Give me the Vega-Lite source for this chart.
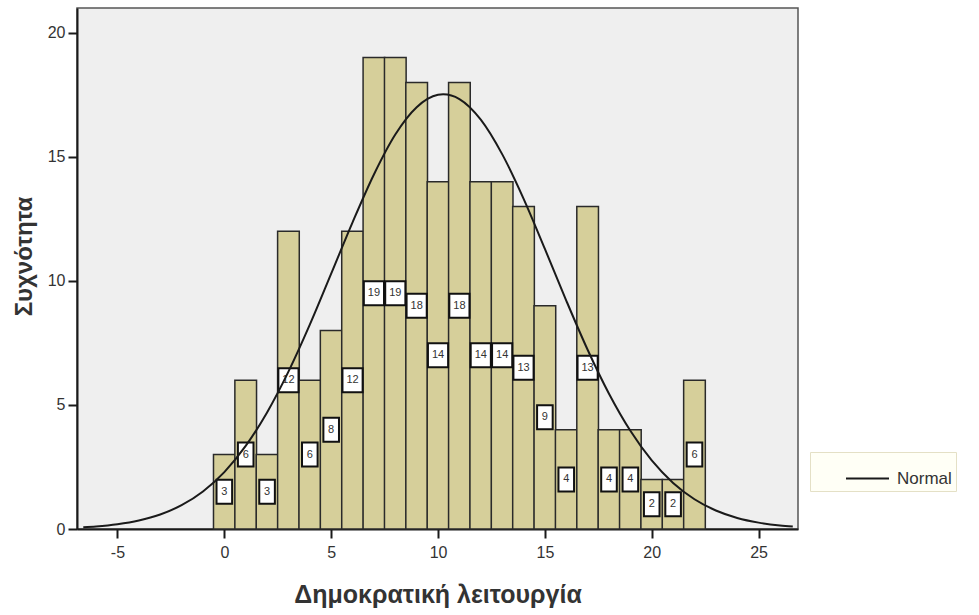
{
  "$schema": "https://vega.github.io/schema/vega-lite/v6.json",
  "autosize": {"type": "none"},
  "width": 721,
  "height": 521,
  "padding": {"left": 77, "top": 8, "right": 181, "bottom": 86},
  "background": "#ffffff",
  "config": {
    "font": "Liberation Sans",
    "view": {"fill": "#efefef", "stroke": "#555555", "strokeWidth": 1.5},
    "axis": {
      "domainColor": "#1a1a1a",
      "domainWidth": 2,
      "tickColor": "#1a1a1a",
      "tickWidth": 2,
      "tickSize": 9,
      "labelFont": "Liberation Sans",
      "labelFontSize": 16,
      "labelColor": "#333333",
      "titleFont": "Liberation Sans",
      "titleFontSize": 24,
      "titleFontWeight": "bold",
      "titleColor": "#333333",
      "grid": false
    }
  },
  "datasets": {
    "bars": [
      {"value": 0, "count": 3}, {"value": 1, "count": 6}, {"value": 2, "count": 3},
      {"value": 3, "count": 12}, {"value": 4, "count": 6}, {"value": 5, "count": 8},
      {"value": 6, "count": 12}, {"value": 7, "count": 19}, {"value": 8, "count": 19},
      {"value": 9, "count": 18}, {"value": 10, "count": 14}, {"value": 11, "count": 18},
      {"value": 12, "count": 14}, {"value": 13, "count": 14}, {"value": 14, "count": 13},
      {"value": 15, "count": 9}, {"value": 16, "count": 4}, {"value": 17, "count": 13},
      {"value": 18, "count": 4}, {"value": 19, "count": 4}, {"value": 20, "count": 2},
      {"value": 21, "count": 2}, {"value": 22, "count": 6}
    ],
    "curve": [
      {"x": -6.6, "y": 0.072}, {"x": -6, "y": 0.105}, {"x": -5, "y": 0.194},
      {"x": -4, "y": 0.344}, {"x": -3, "y": 0.586}, {"x": -2, "y": 0.959},
      {"x": -1, "y": 1.513}, {"x": 0, "y": 2.294}, {"x": 1, "y": 3.348},
      {"x": 2, "y": 4.697}, {"x": 3, "y": 6.341}, {"x": 4, "y": 8.234},
      {"x": 5, "y": 10.29}, {"x": 6, "y": 12.36}, {"x": 7, "y": 14.29},
      {"x": 8, "y": 15.9}, {"x": 9, "y": 17.0}, {"x": 10, "y": 17.5},
      {"x": 10.24, "y": 17.52}, {"x": 11, "y": 17.33}, {"x": 12, "y": 16.5},
      {"x": 13, "y": 15.11}, {"x": 14, "y": 13.32}, {"x": 15, "y": 11.29},
      {"x": 16, "y": 9.208}, {"x": 17, "y": 7.224}, {"x": 18, "y": 5.451},
      {"x": 19, "y": 3.957}, {"x": 20, "y": 2.763}, {"x": 21, "y": 1.857},
      {"x": 22, "y": 1.2}, {"x": 23, "y": 0.746}, {"x": 24, "y": 0.446},
      {"x": 25, "y": 0.257}, {"x": 26, "y": 0.142}, {"x": 26.6, "y": 0.098}
    ]
  },
  "layer": [
    {
      "data": {"name": "bars"},
      "mark": {"type": "bar", "width": 21.67, "fill": "#d6cf9a", "stroke": "#2a2a2a", "strokeWidth": 1.5},
      "encoding": {
        "x": {
          "field": "value", "type": "quantitative",
          "scale": {"domain": [-6.66, 26.61], "nice": false, "zero": false},
          "axis": {"values": [-5, 0, 5, 10, 15, 20, 25], "labelExpr": "replace(datum.label, '−', '-')", "title": "Δημοκρατική λειτουργία", "titleFontSize": 25, "titlePadding": 22, "labelPadding": 6}
        },
        "y": {
          "field": "count", "type": "quantitative",
          "scale": {"domain": [0, 21], "nice": false},
          "axis": {"values": [0, 5, 10, 15, 20], "title": "Συχνότητα", "titlePadding": 11, "titleY": 248, "labelPadding": 3}
        }
      }
    },
    {
      "data": {"name": "bars"},
      "transform": [{"filter": {"field": "count", "gte": 10}}],
      "mark": {"type": "point", "shape": "M-0.84,-1L0.84,-1L0.84,1L-0.84,1Z", "size": 576, "filled": true, "fill": "#ffffff", "stroke": "#111111", "strokeWidth": 2, "opacity": 1},
      "encoding": {
        "x": {"field": "value", "type": "quantitative"},
        "y": {"field": "count", "type": "quantitative", "scale": {"domain": [0, 42], "nice": false}, "axis": null}
      }
    },
    {
      "data": {"name": "bars"},
      "transform": [{"filter": {"field": "count", "lt": 10}}],
      "mark": {"type": "point", "shape": "M-0.65,-1L0.65,-1L0.65,1L-0.65,1Z", "size": 576, "filled": true, "fill": "#ffffff", "stroke": "#111111", "strokeWidth": 2, "opacity": 1},
      "encoding": {
        "x": {"field": "value", "type": "quantitative"},
        "y": {"field": "count", "type": "quantitative", "scale": {"domain": [0, 42], "nice": false}, "axis": null}
      }
    },
    {
      "data": {"name": "bars"},
      "mark": {"type": "text", "fontSize": 11, "color": "#333333", "baseline": "middle", "align": "center", "font": "Liberation Sans"},
      "encoding": {
        "x": {"field": "value", "type": "quantitative"},
        "y": {"field": "count", "type": "quantitative", "scale": {"domain": [0, 42], "nice": false}, "axis": null},
        "text": {"field": "count", "type": "quantitative"}
      }
    },
    {
      "data": {"name": "curve"},
      "mark": {"type": "line", "interpolate": "monotone", "strokeWidth": 2, "clip": true},
      "encoding": {
        "x": {"field": "x", "type": "quantitative"},
        "y": {"field": "y", "type": "quantitative", "scale": {"domain": [0, 21], "nice": false}, "axis": null},
        "stroke": {
          "datum": "Normal",
          "scale": {"range": ["#1a1a1a"]},
          "legend": {
            "orient": "none", "legendX": 733, "legendY": 444,
            "title": null, "symbolType": "stroke", "symbolSize": 1849,
            "symbolStrokeWidth": 2, "symbolOffset": 31, "labelOffset": 7,
            "labelFontSize": 17, "labelFont": "Liberation Sans", "labelColor": "#333333",
            "padding": 4, "fillColor": "#fffff6", "strokeColor": "#e4e0c6", "cornerRadius": 0
          }
        }
      }
    }
  ],
  "resolve": {"scale": {"y": "independent"}}
}
